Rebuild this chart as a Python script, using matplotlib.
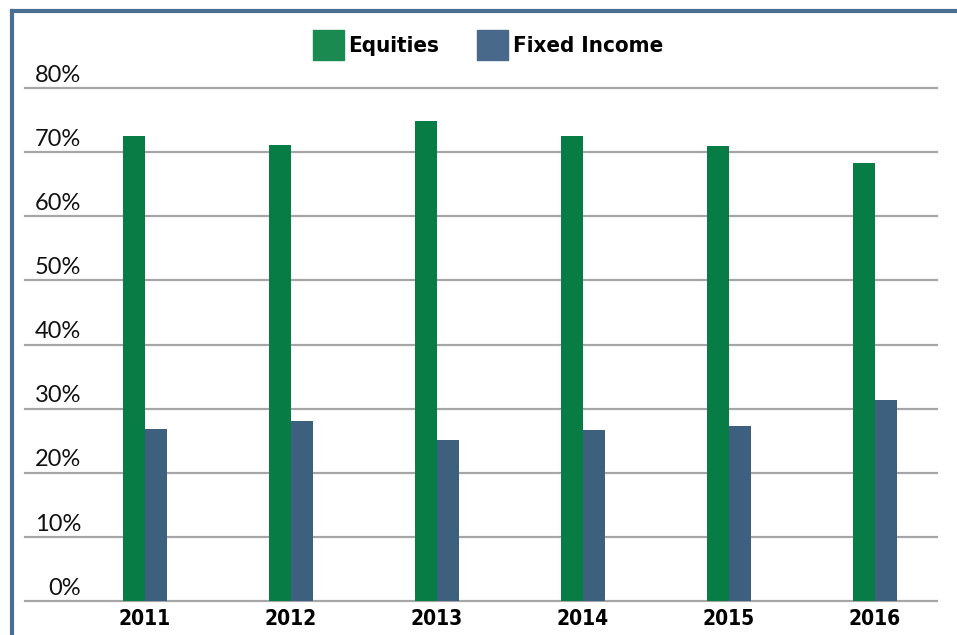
import numpy as np
import matplotlib.pyplot as plt
from matplotlib.lines import Line2D
from matplotlib.patches import Patch

years = ['2011', '2012', '2013', '2014', '2015', '2016']
equities = [72.5, 71.1, 74.9, 72.5, 71.0, 68.3]
fixed_income = [26.8, 28.1, 25.1, 26.7, 27.3, 31.4]
y_ticks = [0, 10, 20, 30, 40, 50, 60, 70, 80]

green = '#077d45'
blue = '#3e607f'

W, H = 957, 635
fig = plt.figure(figsize=(W / 100, H / 100), dpi=100)
ax = fig.add_axes([25 / W, 1 - 601 / H, 912 / W, 513 / H])

x = np.arange(len(years))
bw = 0.15
ax.bar(x - bw / 2, equities, bw, color=green, zorder=3)
ax.bar(x + bw / 2, fixed_income, bw, color=blue, zorder=3)

ax.set_xlim(-0.822, 5.425)
ax.set_ylim(0, 80)

# gridlines with labels sitting on top of them
for v in y_ticks:
    ax.axhline(v, color='#a6a6a6', lw=1.6, zorder=1, clip_on=False)
    ax.annotate(f'{v}%', xy=(0.0615, v), xycoords=ax.get_yaxis_transform(),
                xytext=(0, 4.5), textcoords='offset points',
                ha='right', va='baseline', fontsize=17, color='#111111',
                family=['Lato', 'DejaVu Sans'])

ax.set_xticks(x)
ax.set_xticklabels(years, fontsize=15, fontweight='bold',
                   family='DejaVu Sans', fontstretch='condensed')
ax.tick_params(axis='x', length=0, pad=6)
ax.set_yticks([])
for s in ax.spines.values():
    s.set_visible(False)

# legend
handles = [Patch(color='#1a8a50', label='Equities'),
           Patch(color='#48698a', label='Fixed Income')]
fig.legend(handles=handles, loc='center', bbox_to_anchor=(488 / W, 1 - 45 / H),
           ncol=2, frameon=False, handlelength=1.4, handleheight=1.75,
           handletextpad=0.2, columnspacing=1.7,
           prop={'family': 'DejaVu Sans', 'stretch': 'condensed',
                 'weight': 'bold', 'size': 16})

# outer frame (cut off at the right and bottom)
frame = '#4a6f90'
fig.add_artist(Line2D([12 / W, 12 / W], [0, 1 - 11 / H], color=frame, lw=3,
                      transform=fig.transFigure))
fig.add_artist(Line2D([12 / W, 1], [1 - 11 / H, 1 - 11 / H], color=frame, lw=3,
                      transform=fig.transFigure))

fig.savefig('out.png', dpi=100)
